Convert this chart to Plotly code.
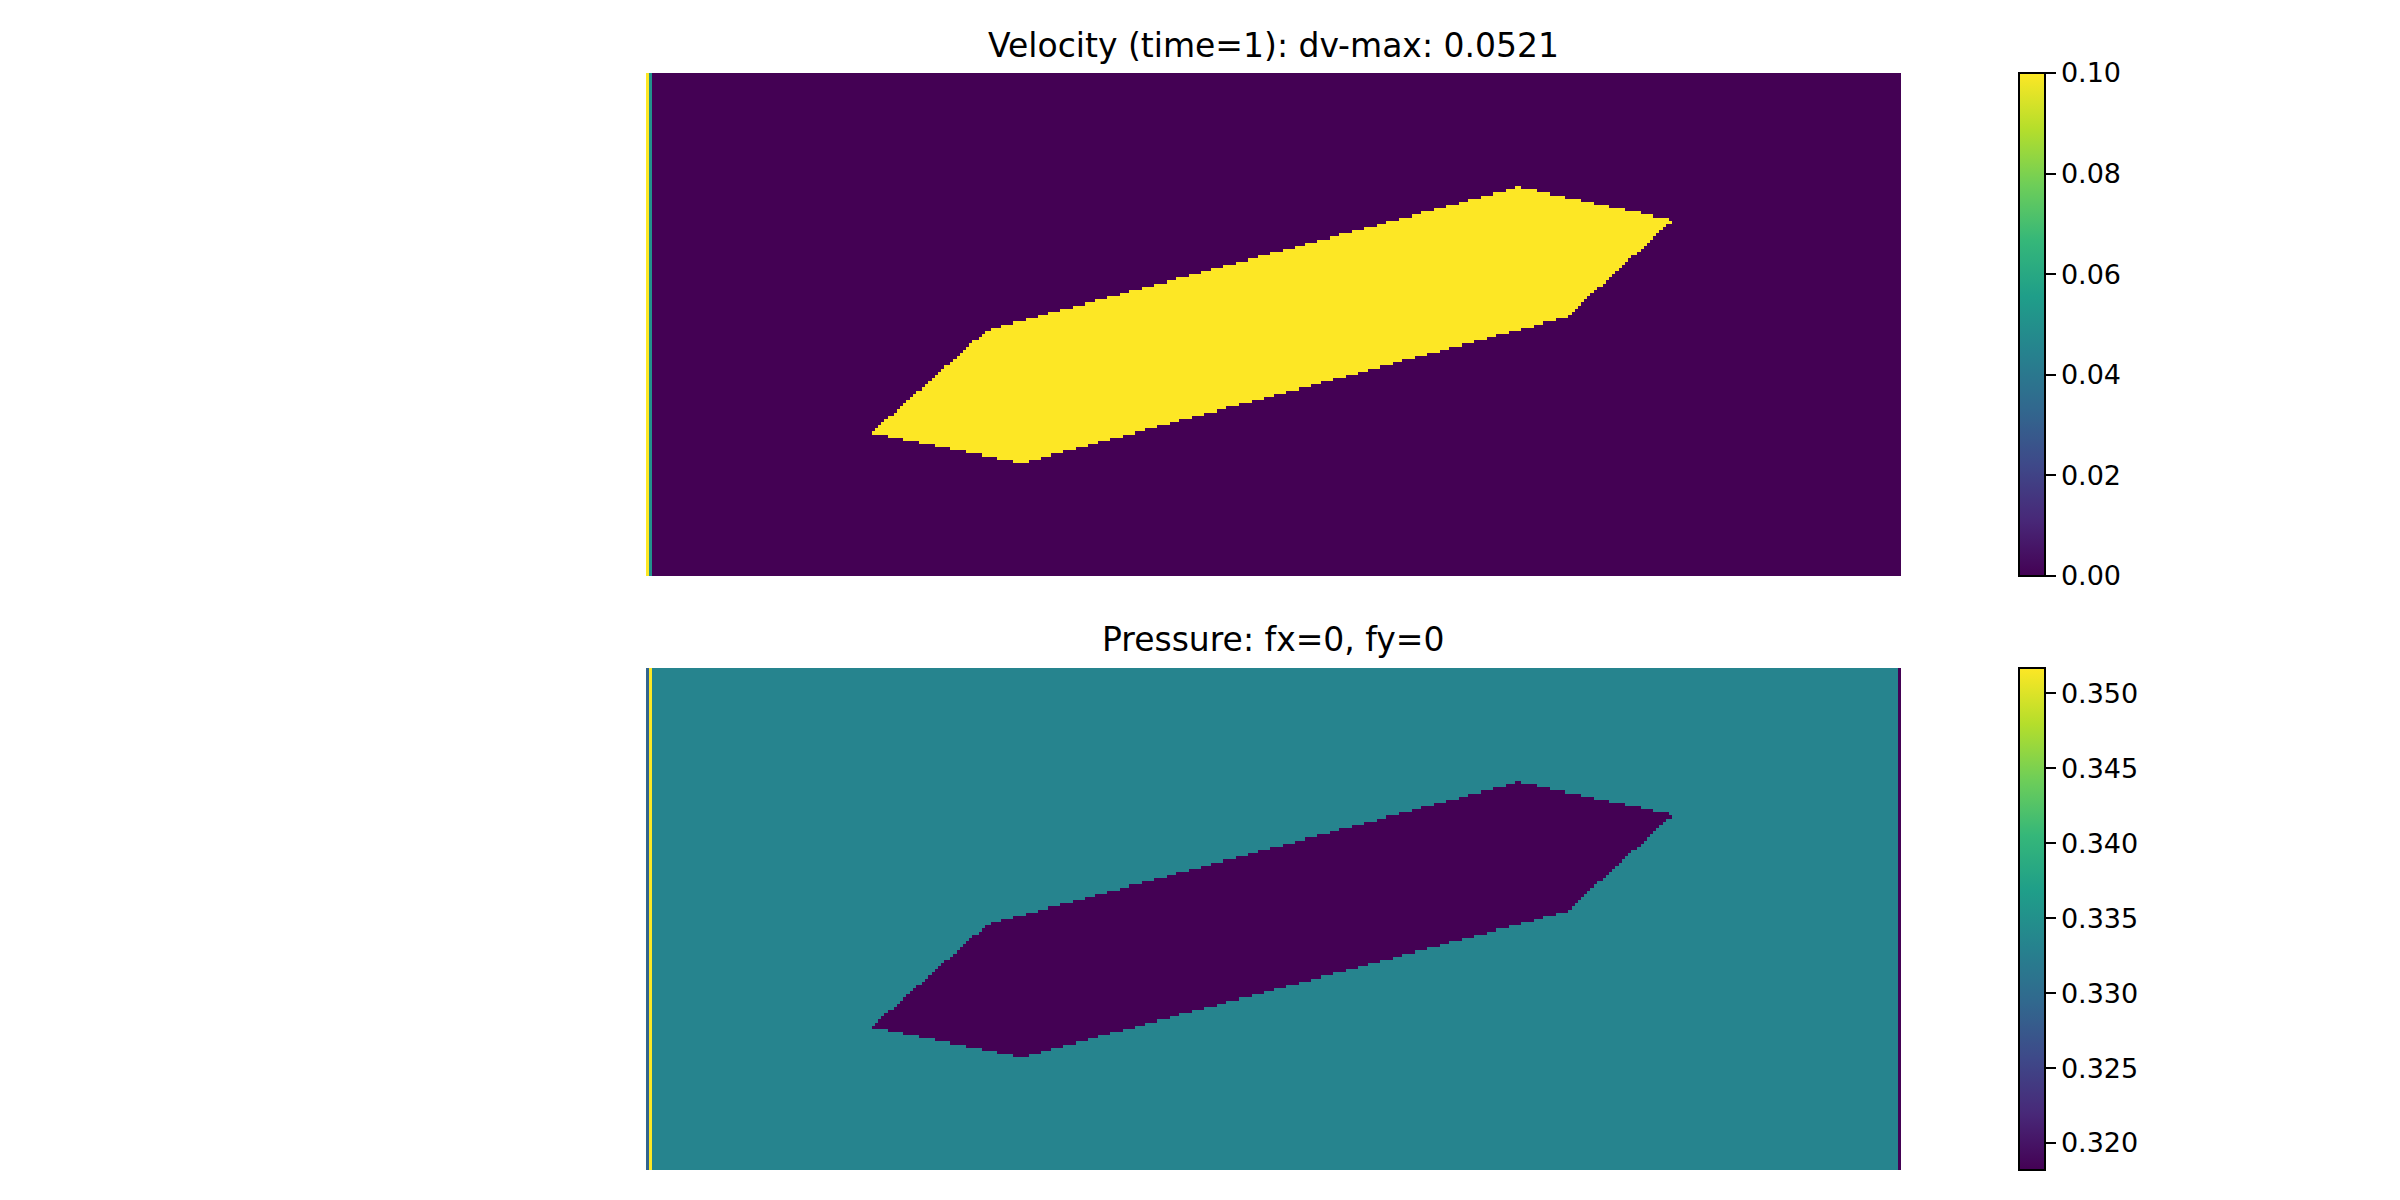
import numpy as np
import plotly.graph_objects as go

# grid (cells) and obstacle outline, in cell units (row 0 at top)
nx, ny = 400, 160
obstacle_x = [71.9, 108.6, 278.0, 327.3, 293.4, 120.0]
obstacle_y = [114.4, 81.8, 36.3, 46.8, 77.6, 124.0]

# velocity field values
vel_background = 0.0
vel_obstacle = 0.1
vel_left_cols = [0.1, 0.05]
vel_range = [0.0, 0.1]

# pressure field values
p_background = 0.3333
p_obstacle = 0.3182
p_left_cols = [0.329, 0.3517]
p_right_col = 0.3182
p_range = [0.3182, 0.3517]

vel_title = "Velocity (time=1): dv-max: 0.0521"
p_title = "Pressure: fx=0, fy=0"


def obstacle_mask():
    cx, cy = np.meshgrid(np.arange(nx) + 0.5, np.arange(ny) + 0.5)
    inside = np.zeros(cx.shape, dtype=bool)
    n = len(obstacle_x)
    for i in range(n):
        x1, y1 = obstacle_x[i], obstacle_y[i]
        x2, y2 = obstacle_x[(i + 1) % n], obstacle_y[(i + 1) % n]
        crosses = (y1 > cy) != (y2 > cy)
        xint = x1 + (cy - y1) * (x2 - x1) / (y2 - y1 + 1e-12)
        inside ^= crosses & (cx < xint)
    return inside


mask = obstacle_mask()

vel = np.full((ny, nx), vel_background)
vel[mask] = vel_obstacle
for i, v in enumerate(vel_left_cols):
    vel[:, i] = v

pres = np.full((ny, nx), p_background)
pres[mask] = p_obstacle
for i, v in enumerate(p_left_cols):
    pres[:, i] = v
pres[:, -1] = p_right_col

font = "DejaVu Sans"
W, H = 2400, 1200
off = 8  # page body margin
x0, x1 = (646 - off) / W, (1901 - off) / W
top_dom = [1 - (576 - off) / H, 1 - (73 - off) / H]
bot_dom = [1 - (1170 - off) / H, 1 - (668 - off) / H]


def cbar(dom, dtick, fmt):
    return dict(
        x=(2019 - off) / W, xanchor="left", xpad=0,
        y=(dom[0] + dom[1]) / 2, yanchor="middle", ypad=0,
        len=dom[1] - dom[0], lenmode="fraction",
        thickness=26, thicknessmode="pixels",
        outlinecolor="black", outlinewidth=2,
        ticks="outside", ticklen=10, tickwidth=2, tickcolor="black",
        dtick=dtick, tick0=0, tickformat=fmt,
        tickfont=dict(family=font, size=27, color="black"),
    )


fig = go.Figure()
fig.add_trace(go.Heatmap(
    z=vel, colorscale="Viridis", zmin=vel_range[0], zmax=vel_range[1],
    xaxis="x", yaxis="y", colorbar=cbar(top_dom, 0.02, ".2f"),
    hoverinfo="skip"))
fig.add_trace(go.Heatmap(
    z=pres, colorscale="Viridis", zmin=p_range[0], zmax=p_range[1],
    xaxis="x2", yaxis="y2", colorbar=cbar(bot_dom, 0.005, ".3f"),
    hoverinfo="skip"))

hidden = dict(visible=False, showgrid=False, zeroline=False)
fig.update_layout(
    width=W, height=H,
    margin=dict(l=0, r=0, t=0, b=0),
    paper_bgcolor="white", plot_bgcolor="white",
    xaxis=dict(domain=[x0, x1], range=[-0.5, nx - 0.5], anchor="y", **hidden),
    yaxis=dict(domain=top_dom, range=[ny - 0.5, -0.5], anchor="x", **hidden),
    xaxis2=dict(domain=[x0, x1], range=[-0.5, nx - 0.5], anchor="y2", **hidden),
    yaxis2=dict(domain=bot_dom, range=[ny - 0.5, -0.5], anchor="x2", **hidden),
    annotations=[
        dict(text=vel_title, x=(x0 + x1) / 2, y=1 - (46 - off) / H,
             xref="paper", yref="paper", xanchor="center", yanchor="middle",
             showarrow=False, font=dict(family=font, size=33, color="black")),
        dict(text=p_title, x=(x0 + x1) / 2, y=1 - (640 - off) / H,
             xref="paper", yref="paper", xanchor="center", yanchor="middle",
             showarrow=False, font=dict(family=font, size=33, color="black")),
    ],
)

fig.write_html("out.html")
